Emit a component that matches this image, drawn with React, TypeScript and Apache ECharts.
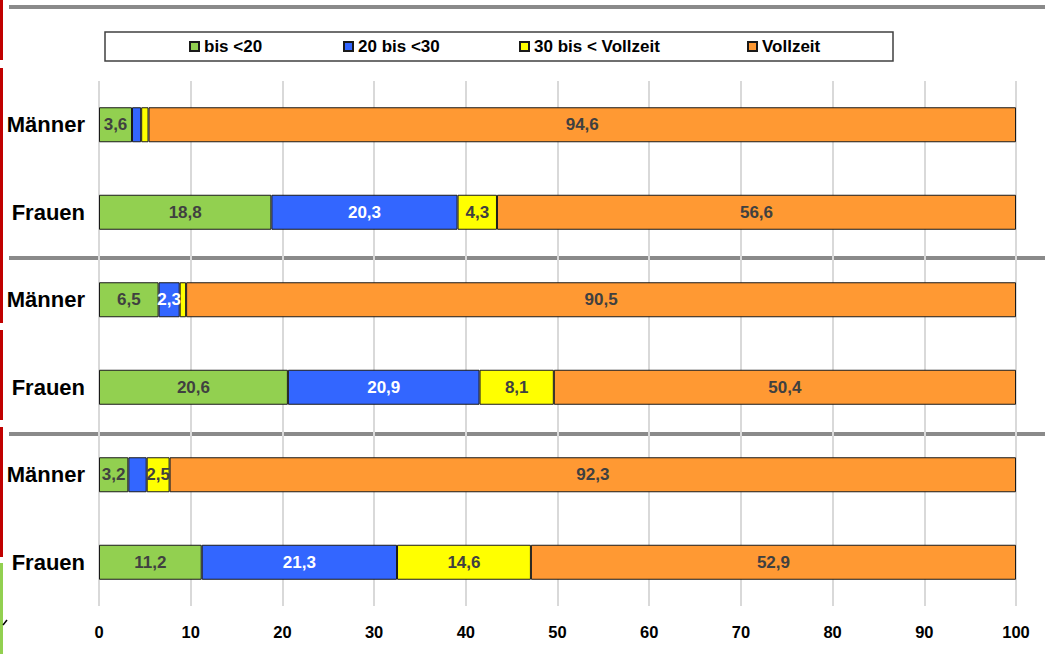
import React, { useEffect, useRef } from "react";
import * as echarts from "echarts";

const categories = ["Männer", "Frauen", "Männer", "Frauen", "Männer", "Frauen"];
const seriesNames = ["bis <20", "20 bis <30", "30 bis < Vollzeit", "Vollzeit"];
const bis20 = [3.6, 18.8, 6.5, 20.6, 3.2, 11.2];
const bis30 = [1.0, 20.3, 2.3, 20.9, 2.0, 21.3];
const bisVollzeit = [0.8, 4.3, 0.7, 8.1, 2.5, 14.6];
const vollzeit = [94.6, 56.6, 90.5, 50.4, 92.3, 52.9];
const seriesValues = [bis20, bis30, bisVollzeit, vollzeit];

const colors = ["#92d050", "#3366ff", "#ffff00", "#ff9933"];
const labelColors = ["#404040", "#ffffff", "#404040", "#404040"];
const legendLeft = [189, 343, 519, 747];
const FONT = "'Liberation Sans', Arial, sans-serif";

export default function App() {
  const ref = useRef<HTMLDivElement>(null);
  useEffect(() => {
    document.body.style.margin = "0";
    if (!ref.current) return;
    const chart = echarts.init(ref.current, undefined, { renderer: "svg" });
    const red = "#c00000";
    const sepColor = "#8a8a8a";
    chart.setOption({
      animation: false,
      backgroundColor: "#ffffff",
      grid: { left: 99, right: 29, top: 81, bottom: 48, containLabel: false, outerBoundsMode: "none" },
      xAxis: {
        type: "value",
        min: 0,
        max: 100,
        interval: 10,
        axisLine: { show: false },
        axisTick: { show: false },
        splitLine: { show: true, lineStyle: { color: "#d9d9d9", width: 2 } },
        axisLabel: {
          margin: 17,
          color: "#000000",
          fontFamily: FONT,
          fontWeight: "bold",
          fontSize: 16.5,
        },
      },
      yAxis: {
        type: "category",
        inverse: true,
        data: categories,
        axisLine: { show: false },
        axisTick: { show: false },
        splitLine: { show: false },
        axisLabel: {
          margin: 14,
          color: "#000000",
          fontFamily: FONT,
          fontWeight: "bold",
          fontSize: 22,
        },
      },
      legend: seriesNames.map((n, i) => ({
        data: [n],
        left: legendLeft[i],
        top: 38,
        padding: 0,
        itemWidth: 9,
        itemHeight: 9,
        icon: "rect",
        selectedMode: false,
        textStyle: {
          color: "#000000",
          fontFamily: FONT,
          fontWeight: "bold",
          fontSize: 17,
        },
      })),
      graphic: [
        { type: "rect", shape: { x: 0, y: 0, width: 3, height: 60 }, style: { fill: red } },
        { type: "rect", shape: { x: 0, y: 68, width: 3, height: 255 }, style: { fill: red } },
        { type: "rect", shape: { x: 0, y: 330, width: 3, height: 90 }, style: { fill: red } },
        { type: "rect", shape: { x: 0, y: 427, width: 3, height: 130 }, style: { fill: red } },
        { type: "rect", shape: { x: 0, y: 563, width: 3, height: 91 }, style: { fill: "#92d050" } },
        { type: "line", shape: { x1: 3, y1: 625, x2: 7, y2: 620 }, style: { stroke: "#000", lineWidth: 1.5 } },
        { type: "line", shape: { x1: 9, y1: 7, x2: 1045, y2: 7 }, style: { stroke: sepColor, lineWidth: 4 } },
        { type: "line", shape: { x1: 9, y1: 258, x2: 1045, y2: 258 }, style: { stroke: sepColor, lineWidth: 4 } },
        { type: "line", shape: { x1: 9, y1: 434, x2: 1045, y2: 434 }, style: { stroke: sepColor, lineWidth: 4 } },
        {
          type: "rect",
          z: -1,
          shape: { x: 105, y: 32, width: 788, height: 29 },
          style: { fill: "#ffffff", stroke: "#404040", lineWidth: 1.5 },
        },
      ],
      series: seriesValues.map((vals, i) => ({
        name: seriesNames[i],
        type: "bar",
        stack: "total",
        barWidth: 35,
        data: vals,
        itemStyle: { color: colors[i], borderColor: "#1a1a1a", borderWidth: 1 },
        label: {
          show: true,
          position: "inside",
          color: labelColors[i],
          fontFamily: FONT,
          fontWeight: "bold",
          fontSize: 17,
          formatter: (p: any) => (p.value >= 2.2 ? p.value.toFixed(1).replace(".", ",") : ""),
        },
      })),
    });
    return () => chart.dispose();
  }, []);
  return <div ref={ref} style={{ position: "absolute", left: 0, top: 0, width: 1045, height: 654 }} />;
}
